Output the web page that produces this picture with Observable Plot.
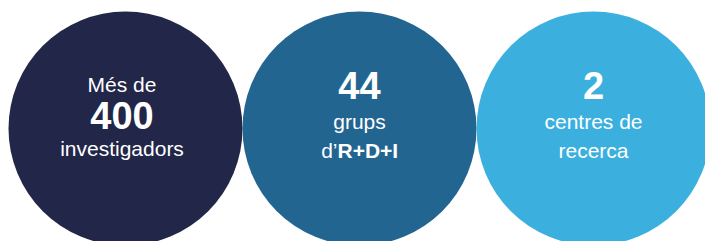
<!DOCTYPE html>
<html>
<head>
<meta charset="utf-8">
<script src="https://cdn.jsdelivr.net/npm/d3@7"></script>
<script src="https://cdn.jsdelivr.net/npm/@observablehq/plot@0.6"></script>
<style>
  html, body { margin: 0; padding: 0; overflow: hidden; background: #fff; }
</style>
</head>
<body>
<div id="chart"></div>
<script>
const categories = ["investigadors", "grups", "centres"];
const figures = ["400", "44", "2"];
const leadLabels = ["Més de", "", ""];
const firstLines = ["investigadors", "grups", "centres de"];
const secondPrefix = ["", "d’", ""];
const secondBold = ["", "R+D+I", ""];
const secondPlain = ["", "", "recerca"];
const colors = ["#222649", "#236591", "#3bb0de"];

const rows = categories.map((c, i) => ({
  cat: c, figure: figures[i], lead: leadLabels[i], first: firstLines[i],
  prefix: secondPrefix[i], bold: secondBold[i], plain: secondPlain[i]
}));
const first = rows.filter((d, i) => i === 0);
const rest = rows.filter((d, i) => i > 0);

const font = "'Liberation Sans', Arial, sans-serif";
const common = {x: "cat", frameAnchor: "middle", lineAnchor: "bottom", fill: "white", fontFamily: font};

const chart = Plot.plot({
  width: 705,
  height: 241,
  marginLeft: 124.5,
  marginRight: 112.5,
  marginTop: 15,
  marginBottom: 0,
  style: {fontFamily: font, background: "white"},
  x: {type: "point", domain: categories, padding: 0, axis: null},
  color: {domain: categories, range: colors},
  marks: [
    Plot.dot(rows, {x: "cat", r: 117, fill: "cat", frameAnchor: "middle"}),
    // first circle: lead label, big figure, one line
    Plot.text(first, {...common, text: "lead", fontSize: 21, dy: -37, dx: -3.5}),
    Plot.text(first, {...common, text: "figure", fontSize: 38, fontWeight: "bold", dy: 0.5, dx: -3.5}),
    Plot.text(first, {...common, text: "first", fontSize: 21, dy: 27, dx: -3.5}),
    // other circles: big figure, two lines
    Plot.text(rest, {...common, text: "figure", fontSize: 38, fontWeight: "bold", dy: -29.5}),
    Plot.text(rest, {...common, text: "first", fontSize: 21, dy: 0.5}),
    Plot.text(rest, {...common, text: "plain", fontSize: 21, dy: 29}),
    Plot.text(rest, {...common, text: "prefix", fontSize: 21, dy: 29, dx: -22, textAnchor: "end"}),
    Plot.text(rest, {...common, text: "bold", fontSize: 21, fontWeight: "bold", dy: 29, dx: -22, textAnchor: "start"})
  ]
});
document.getElementById("chart").appendChild(chart);
</script>
</body>
</html>
